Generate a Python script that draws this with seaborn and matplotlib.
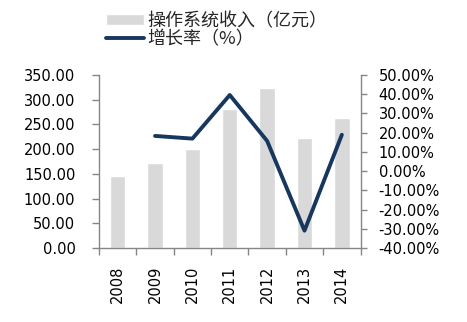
import numpy as np
import pandas as pd
import matplotlib
matplotlib.use("Agg")
import matplotlib.pyplot as plt
from matplotlib.ticker import FixedLocator, FuncFormatter
import seaborn as sns

years = ["2008", "2009", "2010", "2011", "2012", "2013", "2014"]
revenue = [146, 171, 200, 281, 324, 222, 264]          # 亿元
growth = [np.nan, 18.3, 16.9, 39.6, 15.7, -31.0, 18.9]  # %

bar_label = "操作系统收入（亿元）"
line_label = "增长率（%）"

sns.set_theme(style="white")
plt.rcParams["font.family"] = ["DejaVu Sans", "Noto Sans CJK SC"]

BAR_COLOR = "#d9d9d9"
LINE_COLOR = "#17375e"
AXIS_COLOR = "#868686"

df = pd.DataFrame({"year": years, "revenue": revenue, "growth": growth})
df["pos"] = np.arange(len(years))

fig = plt.figure(figsize=(4.67, 3.22), dpi=100)
ax = fig.add_axes([0.212, 0.230, 0.560, 0.537])

sns.barplot(data=df, x="year", y="revenue", order=years, color=BAR_COLOR,
            width=0.41, saturation=1, ax=ax, label=bar_label)

ax2 = ax.twinx()
sns.lineplot(data=df.dropna(), x="pos", y="growth", color=LINE_COLOR,
             linewidth=2.8, ax=ax2, label=line_label)

ax.set_xlim(-0.5, len(years) - 0.5)
ax.set_ylim(0, 350)
ax.set_yticks(np.arange(0, 351, 50))
ax.yaxis.set_major_formatter(FuncFormatter(lambda v, p: f"{v:.2f}"))
ax2.set_ylim(-40, 50)
ax2.set_yticks(np.arange(-40, 51, 10))
ax2.yaxis.set_major_formatter(FuncFormatter(lambda v, p: f"{v:.2f}%"))

for a in (ax, ax2):
    a.set_xlabel("")
    a.set_ylabel("")
    a.grid(False)
    for side, sp in a.spines.items():
        sp.set_color(AXIS_COLOR)
        sp.set_linewidth(1.0)
    a.spines["top"].set_visible(False)
ax2.spines["left"].set_visible(False)
ax2.spines["bottom"].set_visible(False)
ax.spines["right"].set_visible(False)

# category labels centered, tick marks on category boundaries
ax.set_xticks(np.arange(len(years)))
ax.set_xticklabels(years, rotation=90)
ax.xaxis.set_minor_locator(FixedLocator(np.arange(-0.5, len(years), 1.0)))
ax.tick_params(axis="x", which="major", length=0, pad=13, labelsize=10.5,
               labelcolor="black")
ax.tick_params(axis="x", which="minor", bottom=True, length=5, width=1,
               color=AXIS_COLOR, direction="out")
ax.tick_params(axis="y", left=True, length=5, width=1, color=AXIS_COLOR,
               direction="out", pad=12, labelsize=10.5, labelcolor="black")
ax2.tick_params(axis="y", right=True, length=4, width=1, color=AXIS_COLOR,
                direction="out", pad=9, labelsize=10.5, labelcolor="black")

# legend at top
h1, l1 = ax.get_legend_handles_labels()
h2, l2 = ax2.get_legend_handles_labels()
if ax.get_legend() is not None:
    ax.get_legend().remove()
if ax2.get_legend() is not None:
    ax2.get_legend().remove()
fig.legend(h1 + h2, l1 + l2, loc="upper left",
           bbox_to_anchor=(106 / 467, 1 - 12 / 322), frameon=False,
           prop={"family": ["Noto Sans CJK SC", "DejaVu Sans"], "size": 13},
           handlelength=2.1, handleheight=0.55, handletextpad=0.2,
           labelspacing=0.0, borderaxespad=0, borderpad=0)

fig.savefig("out.png", dpi=100, facecolor="white")
